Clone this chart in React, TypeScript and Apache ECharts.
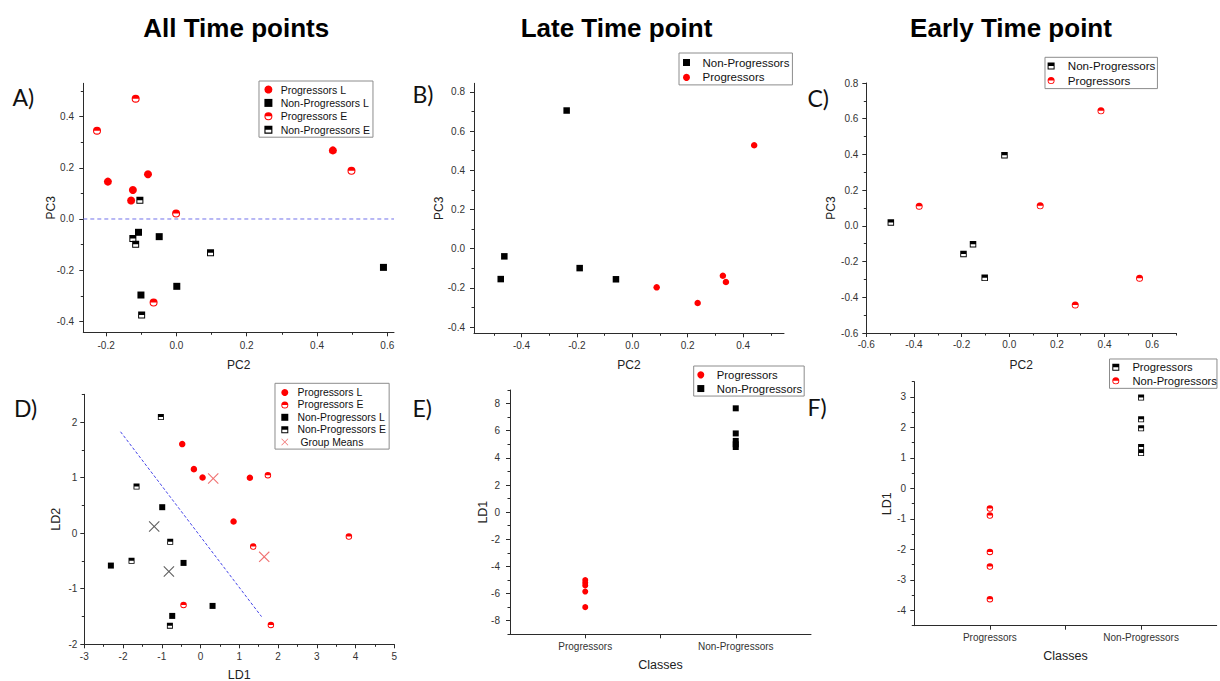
import React, { useEffect, useRef } from 'react';
import * as echarts from 'echarts';

const FONT = "'Liberation Sans', Arial, sans-serif";

// ---------- Panel titles ----------
const COLUMN_TITLES = ['All Time points', 'Late Time point', 'Early Time point'];
const PANEL_LETTERS = ['A)', 'B)', 'C)', 'D)', 'E)', 'F)'];

// ---------- Panel A (PC2 vs PC3, all time points) ----------
const A_PROG_L = [[-0.195, 0.146], [-0.124, 0.113], [-0.129, 0.072], [-0.081, 0.175], [0.445, 0.268]];
const A_NONPROG_L = [[-0.108, -0.052], [-0.049, -0.069], [-0.101, -0.297], [0.001, -0.263], [0.589, -0.189]];
const A_PROG_E = [[-0.226, 0.345], [-0.116, 0.47], [-0.001, 0.021], [-0.065, -0.326], [0.498, 0.188]];
const A_NONPROG_E = [[-0.104, 0.073], [-0.124, -0.076], [-0.116, -0.099], [-0.099, -0.375], [0.097, -0.132]];
const A_REF_LINE = 0;
const A_X_RANGE = [-0.265, 0.619];
const A_Y_RANGE = [-0.4426, 0.53];
const A_X_MAJOR = [-0.2, 0, 0.2, 0.4, 0.6];
const A_X_MINOR = [-0.1, 0.1, 0.3, 0.5];
const A_Y_MAJOR = [-0.4, -0.2, 0, 0.2, 0.4];
const A_Y_MINOR = [-0.3, -0.1, 0.1, 0.3, 0.5];

// ---------- Panel B (late) ----------
const B_NONPROG = [[-0.237, 0.705], [-0.462, -0.039], [-0.475, -0.155], [-0.19, -0.099], [-0.059, -0.156]];
const B_PROG = [[0.088, -0.197], [0.236, -0.277], [0.327, -0.138], [0.338, -0.17], [0.44, 0.528]];
const B_X_MAJOR = [-0.4, -0.2, 0, 0.2, 0.4];
const B_X_MINOR = [-0.5, -0.3, -0.1, 0.1, 0.3, 0.5];
const B_Y_MAJOR = [-0.4, -0.2, 0, 0.2, 0.4, 0.6, 0.8];
const B_Y_MINOR = [-0.3, -0.1, 0.1, 0.3, 0.5, 0.7];

// ---------- Panel C (early) ----------
const C_NONPROG = [[-0.497, 0.019], [-0.192, -0.157], [-0.152, -0.103], [-0.103, -0.291], [-0.02, 0.396]];
const C_PROG = [[-0.378, 0.11], [0.13, 0.112], [0.385, 0.644], [0.277, -0.443], [0.547, -0.293]];
const C_X_MAJOR = [-0.6, -0.4, -0.2, 0, 0.2, 0.4, 0.6];
const C_X_MINOR = [-0.5, -0.3, -0.1, 0.1, 0.3, 0.5, 0.7];
const C_Y_MAJOR = [-0.6, -0.4, -0.2, 0, 0.2, 0.4, 0.6, 0.8];
const C_Y_MINOR = [-0.5, -0.3, -0.1, 0.1, 0.3, 0.5, 0.7];

// ---------- Panel D (LDA, all time points) ----------
const D_PROG_L = [[-0.473, 1.604], [-0.172, 1.153], [0.052, 1.003], [1.273, 0.997], [0.852, 0.21]];
const D_PROG_E = [[1.738, 1.045], [1.359, -0.24], [3.828, -0.06], [-0.439, -1.291], [1.815, -1.652]];
const D_NONPROG_L = [[-0.989, 0.468], [-0.439, -0.535], [-2.314, -0.583], [-0.731, -1.489], [0.31, -1.309]];
const D_NONPROG_E = [[-1.024, 2.09], [-1.652, 0.841], [-0.783, -0.156], [-1.781, -0.498], [-0.791, -1.664]];
const D_MEANS = [[-1.196, 0.12], [-0.817, -0.691], [0.327, 0.985], [1.643, -0.426]];
const D_MEANS_GROUP = ['Non-Progressors', 'Non-Progressors', 'Progressors', 'Progressors'];
const D_BOUNDARY_X = [-2.065, 1.574];
const D_BOUNDARY_Y = [1.826, -1.502];
const D_X_MAJOR = [-3, -2, -1, 0, 1, 2, 3, 4, 5];
const D_X_MINOR = [-2.5, -1.5, -0.5, 0.5, 1.5, 2.5, 3.5, 4.5];
const D_Y_MAJOR = [-2, -1, 0, 1, 2];
const D_Y_MINOR = [-1.5, -0.5, 0.5, 1.5, 2.5];

// ---------- Panels E / F (LD1 by class) ----------
const CLASSES = ['Progressors', 'Non-Progressors'];
const E_PROG = [-5.0, -5.2, -5.4, -5.85, -7.0];
const E_NONPROG = [7.65, 5.8, 5.25, 5.0, 4.8];
const E_Y_MAJOR = [-8, -6, -4, -2, 0, 2, 4, 6, 8];
const E_Y_MINOR = [-9, -7, -5, -3, -1, 1, 3, 5, 7, 9];
const F_PROG = [-0.66, -0.89, -2.08, -2.56, -3.63];
const F_NONPROG = [2.98, 2.27, 1.97, 1.36, 1.16];
const F_Y_MAJOR = [-4, -3, -2, -1, 0, 1, 2, 3];
const F_Y_MINOR = [-4.5, -3.5, -2.5, -1.5, -0.5, 0.5, 1.5, 2.5, 3.5];
const CLASS_TICKS = [1, 1.5, 2];
const CLASS_LABELS = [1, 2];

// ---------- Symbols ----------
const SQUARE = 'path://M0,0L100,0L100,100L0,100Z';
const CIRCLE_HALF = 'path://M0,50A50,50 0 1 1 100,50A50,50 0 1 1 0,50Z M87,50L13,50A37,37 0 0 0 87,50Z';
const SQUARE_HALF = 'path://M0,0L100,0L100,100L0,100Z M14,50L14,86L86,86L86,50Z';
const XMARK = 'path://M0,7L7,0L50,43L93,0L100,7L57,50L100,93L93,100L50,57L7,100L0,93L43,50Z';

const RED = '#ff0000';
const BLACK = '#000000';
const AXIS_COLOR = '#2b2b2b';

const classX = (c: string) => CLASSES.indexOf(c) + 1;

function axes(gridIndex: number, dim: 'x' | 'y', min: number, max: number, majors: number[], minors: number[],
  fmt: (v: number) => string, margin: number, name: string, nameGap: number, nameSize: number, labelValues?: number[]) {
  const position = dim === 'x' ? 'bottom' : 'left';
  const main = {
    type: 'value', gridIndex, min, max, position, scale: false,
    axisLine: { show: true, onZero: false, lineStyle: { color: AXIS_COLOR, width: 1 } },
    axisTick: { show: true, inside: false, length: 4, customValues: majors, lineStyle: { color: AXIS_COLOR, width: 1 } },
    axisLabel: { show: true, customValues: labelValues || majors, formatter: fmt, margin, fontSize: 10, color: '#333', fontFamily: FONT },
    splitLine: { show: false },
    minorTick: { show: false },
    name, nameLocation: 'middle', nameGap, nameMoveOverlap: false,
    nameTextStyle: { fontSize: nameSize, color: '#222', fontFamily: FONT },
  };
  const minor = {
    type: 'value', gridIndex, min, max, position,
    axisLine: { show: false, onZero: false },
    axisTick: { show: true, inside: false, length: 2.5, customValues: minors, lineStyle: { color: AXIS_COLOR, width: 1 } },
    axisLabel: { show: false },
    splitLine: { show: false },
  };
  return [main, minor];
}

function mkLegend(left: number, top: number, names: string[], fontSize: number, itemWidth: number, itemHeight: number,
  itemGap: number, padding: number[]) {
  return {
    show: true, orient: 'vertical', left, top, data: names, itemWidth, itemHeight, itemGap, padding,
    borderColor: '#8c8c8c', borderWidth: 1, borderRadius: 0, backgroundColor: '#ffffff',
    selectedMode: false, symbolKeepAspect: true,
    textStyle: { fontSize, color: '#111', fontFamily: FONT },
    formatter: (n: string) => n.slice(n.indexOf(':') + 1),
    itemStyle: { borderWidth: 0 },
  };
}

function scatter(name: string, grid: number, data: any[], symbol: string, size: number, color: string, extra: any = {}) {
  return {
    type: 'scatter', name, xAxisIndex: grid * 2, yAxisIndex: grid * 2, data, symbol, symbolSize: size,
    itemStyle: { color, borderWidth: 0, opacity: 1 }, emphasis: { disabled: true }, ...extra,
  };
}

function dashedLine(name: string, grid: number, data: number[][], color: string, dash: number[]) {
  return {
    type: 'line', name, xAxisIndex: grid * 2, yAxisIndex: grid * 2, data, symbol: 'none', showSymbol: false,
    lineStyle: { type: dash, color, width: 1 }, itemStyle: { color }, emphasis: { disabled: true }, z: 1,
  };
}

const f1 = (v: number) => v.toFixed(1);
const f0 = (v: number) => String(Math.round(v));
const fc = (v: number) => CLASSES[Math.round(v) - 1] || '';

function buildOption() {
  const grids = [
    { left: 83.3, top: 83.3, width: 310.7, height: 249 },
    { left: 474, top: 83.3, width: 310, height: 250 },
    { left: 866.3, top: 83, width: 309.7, height: 250 },
    { left: 84.3, top: 394.3, width: 310, height: 250 },
    { left: 510, top: 390, width: 301, height: 244.3 },
    { left: 914.3, top: 381.7, width: 302.4, height: 244 },
  ].map(g => ({ ...g, containLabel: false, outerBoundsMode: 'none', show: false }));

  const xAxis = [
    ...axes(0, 'x', A_X_RANGE[0], A_X_RANGE[1], A_X_MAJOR, A_X_MINOR, f1, 7.7, 'PC2', 26.4, 12),
    ...axes(1, 'x', -0.5715, 0.5477, B_X_MAJOR, B_X_MINOR, f1, 6.7, 'PC2', 25.5, 12),
    ...axes(2, 'x', -0.6, 0.7, C_X_MAJOR, C_X_MINOR, f1, 6.3, 'PC2', 26, 12),
    ...axes(3, 'x', -3, 5, D_X_MAJOR, D_X_MINOR, f0, 7.4, 'LD1', 24.5, 12.5),
    ...axes(4, 'x', 0.5, 2.5, CLASS_TICKS, [], fc, 6.7, 'Classes', 24.4, 12.5, CLASS_LABELS),
    ...axes(5, 'x', 0.5, 2.5, CLASS_TICKS, [], fc, 6.6, 'Classes', 24, 12.5, CLASS_LABELS),
  ];
  const yAxis = [
    ...axes(0, 'y', A_Y_RANGE[0], A_Y_RANGE[1], A_Y_MAJOR, A_Y_MINOR, f1, 9.3, 'PC3', 26.3, 12),
    ...axes(1, 'y', -0.4316, 0.8439, B_Y_MAJOR, B_Y_MINOR, f1, 9, 'PC3', 29.4, 12),
    ...axes(2, 'y', -0.6, 0.8, C_Y_MAJOR, C_Y_MINOR, f1, 8, 'PC3', 29.3, 12),
    ...axes(3, 'y', -2, 2.5, D_Y_MAJOR, D_Y_MINOR, f0, 7, 'LD2', 22, 12.5),
    ...axes(4, 'y', -9, 9, E_Y_MAJOR, E_Y_MINOR, f0, 10, 'LD1', 20.4, 12.5),
    ...axes(5, 'y', -4.5, 3.5, F_Y_MAJOR, F_Y_MINOR, f0, 8.3, 'LD1', 20.7, 12.5),
  ];

  const series: any[] = [
    // A
    dashedLine('A:zero', 0, A_X_RANGE.map(x => [x, A_REF_LINE]), '#7272ea', [4, 3]),
    scatter('A:Progressors L', 0, A_PROG_L, 'circle', 8, RED),
    scatter('A:Non-Progressors L', 0, A_NONPROG_L, SQUARE, 7, BLACK),
    scatter('A:Progressors E', 0, A_PROG_E, CIRCLE_HALF, 8, RED),
    scatter('A:Non-Progressors E', 0, A_NONPROG_E, SQUARE_HALF, 7, BLACK),
    // B
    scatter('B:Non-Progressors', 1, B_NONPROG, SQUARE, 6.5, BLACK),
    scatter('B:Progressors', 1, B_PROG, 'circle', 6.5, RED),
    // C
    scatter('C:Non-Progressors', 2, C_NONPROG, SQUARE_HALF, 6.5, BLACK),
    scatter('C:Progressors', 2, C_PROG, CIRCLE_HALF, 7, RED),
    // D
    dashedLine('D:boundary', 3, D_BOUNDARY_X.map((x, i) => [x, D_BOUNDARY_Y[i]]), '#4646e8', [3, 2]),
    scatter('D:Progressors L', 3, D_PROG_L, 'circle', 6.5, RED),
    scatter('D:Progressors E', 3, D_PROG_E, CIRCLE_HALF, 6.5, RED),
    scatter('D:Non-Progressors L', 3, D_NONPROG_L, SQUARE, 6, BLACK),
    scatter('D:Non-Progressors E', 3, D_NONPROG_E, SQUARE_HALF, 6, BLACK),
    scatter('D: Group Means', 3, D_MEANS.map((p, i) => ({
      value: p,
      itemStyle: { color: D_MEANS_GROUP[i] === 'Progressors' ? '#f07272' : '#5e5e5e' },
    })), XMARK, 11, '#f07272'),
    // E
    scatter('E:Progressors', 4, E_PROG.map(v => [classX('Progressors'), v]), 'circle', 6, RED),
    scatter('E:Non-Progressors', 4, E_NONPROG.map(v => [classX('Non-Progressors'), v]), SQUARE, 6, BLACK),
    // F (legend labels as in the original figure)
    scatter('F:Progressors', 5, F_NONPROG.map(v => [classX('Non-Progressors'), v]), SQUARE_HALF, 6, BLACK),
    scatter('F:Non-Progressors', 5, F_PROG.map(v => [classX('Progressors'), v]), CIRCLE_HALF, 6.5, RED),
  ];

  const legend = [
    mkLegend(259, 81, ['A:Progressors L', 'A:Non-Progressors L', 'A:Progressors E', 'A:Non-Progressors E'], 10.5, 14.6, 8, 2.4, [3, 3, 2, 5.4]),
    mkLegend(679, 53, ['B:Non-Progressors', 'B:Progressors'], 11.5, 22, 7, 2.9, [3.5, 3, 1.5, 4]),
    mkLegend(1045, 57.3, ['C:Non-Progressors', 'C:Progressors'], 11.6, 23.4, 7, 2.7, [2.6, 2, 2, 2.6]),
    mkLegend(275, 383.3, ['D:Progressors L', 'D:Progressors E', 'D:Non-Progressors L', 'D:Non-Progressors E', 'D: Group Means'], 10.4, 15.4, 7, 2.4, [4.2, 3.3, 2, 6.3]),
    mkLegend(693.7, 366, ['E:Progressors', 'E:Non-Progressors'], 11.3, 22, 7, 2.7, [3.35, 2, 2, 3.6]),
    mkLegend(1109.5, 359, ['F:Progressors', 'F:Non-Progressors'], 11.2, 23.2, 7, 2.7, [2.65, 0, 2, 2.8]),
  ];

  const titleX = [236.2, 616.5, 1011];
  const letterPos = [[12.5, 96.7], [412.5, 94], [807.5, 97.5], [14, 408], [412.5, 407.5], [807.5, 406.7]];
  const graphic: any[] = [
    ...COLUMN_TITLES.map((t, i) => ({
      type: 'text', x: titleX[i], y: 27.5, silent: true,
      style: { text: t, fontSize: 26, fontWeight: 'bold', fontFamily: FONT, fill: '#000', align: 'center', verticalAlign: 'middle' },
    })),
    ...PANEL_LETTERS.map((t, i) => ({
      type: 'text', x: letterPos[i][0], y: letterPos[i][1], silent: true,
      style: { text: t, fontSize: 23, fontFamily: "Lato, 'Open Sans', sans-serif", fill: '#111', align: 'left', verticalAlign: 'middle' },
    })),
  ];

  return {
    animation: false,
    backgroundColor: '#ffffff',
    textStyle: { fontFamily: FONT },
    tooltip: { show: false },
    grid: grids,
    xAxis,
    yAxis,
    legend,
    series,
    graphic,
  };
}

export default function App() {
  const ref = useRef<HTMLDivElement>(null);
  useEffect(() => {
    const chart = echarts.init(ref.current!, null, { renderer: 'svg' });
    chart.setOption(buildOption() as any);
    return () => chart.dispose();
  }, []);
  return (
    <div
      ref={ref}
      style={{ position: 'absolute', left: 0, top: 0, width: 1220, height: 681, background: '#ffffff' }}
    />
  );
}
